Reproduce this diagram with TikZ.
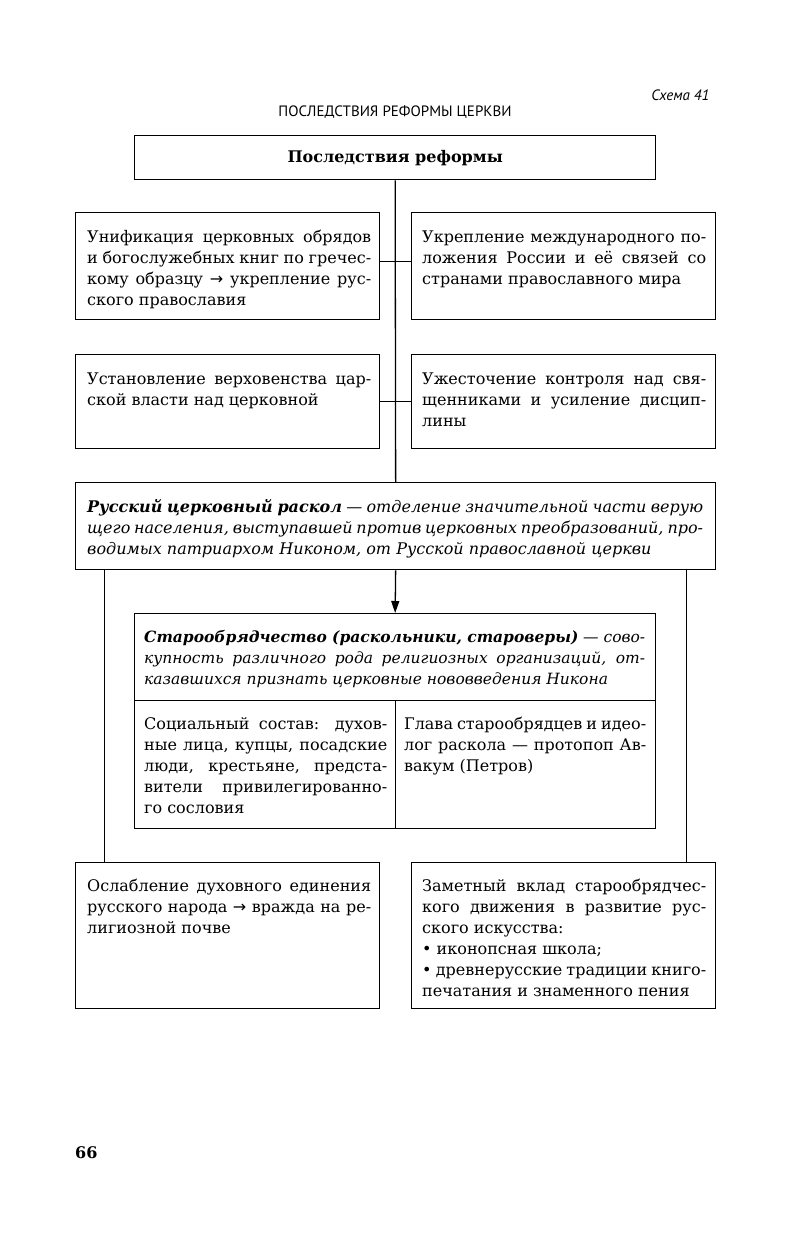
\documentclass[tikz,border=0pt]{standalone}
\usepackage{fontspec}
\setmainfont{DejaVu Serif}
\newfontfamily\hdrfont{PT Sans}
\newfontfamily\arrfont{DejaVu Sans}
\newcommand{\rarr}{{\arrfont →}}
\usetikzlibrary{arrows.meta}
\begin{document}
\begin{tikzpicture}[x=1pt,y=-1pt,
  box/.style={draw, line width=1.3pt, inner sep=0pt, anchor=north west},
  txt/.style={anchor=base west, inner sep=0pt, align=justify, font=\fontsize{16}{21}\selectfont},
  conn/.style={line width=1.3pt}]
\useasboundingbox[fill=white] (0,0) rectangle (791,1245);

\node[font=\hdrfont\itshape\fontsize{15}{17}\selectfont, anchor=east] (schema) at (713,95) {Схема 41};
\node[font=\hdrfont\fontsize{15}{17}\selectfont] (title) at (395,112) {ПОСЛЕДСТВИЯ РЕФОРМЫ ЦЕРКВИ};

\node[box, minimum width=521pt, minimum height=44pt, font=\bfseries\fontsize{16}{21}\selectfont] (T) at (134,135) {Последствия реформы};

\node[box, minimum width=304pt, minimum height=107pt] (A) at (75,212) {};
\node[box, minimum width=304pt, minimum height=107pt] (B) at (411,212) {};
\node[box, minimum width=304pt, minimum height=94pt] (C) at (75,354) {};
\node[box, minimum width=304pt, minimum height=94pt] (D) at (411,354) {};
\node[box, minimum width=640pt, minimum height=87pt] (R) at (75,482) {};
\node[box, minimum width=521pt, minimum height=87pt] (O) at (134,613) {};
\node[box, minimum width=261pt, minimum height=128pt] (OL) at (134,700) {};
\node[box, minimum width=260pt, minimum height=128pt] (OR) at (395,700) {};
\node[box, minimum width=304pt, minimum height=146pt] (L) at (75,862) {};
\node[box, minimum width=304pt, minimum height=146pt] (BR) at (411,862) {};

\node[txt, text width=284pt] (At) at (87,242) {Унификация церковных обрядов\break и богослужебных книг по гречес-\break кому образцу \rarr{} укрепление рус-\break ского православия};
\node[txt, text width=284pt] (Bt) at (422,242) {Укрепление международного по-\break ложения России и её связей со\break странами православного мира};
\node[txt, text width=284pt] (Ct) at (87,384) {Установление верховенства цар-\break ской власти над церковной};
\node[txt, text width=284pt] (Dt) at (422,384) {Ужесточение контроля над свя-\break щенниками и усиление дисцип-\break лины};
\node[txt, text width=616pt, font=\itshape\fontsize{16}{21}\selectfont] (Rt) at (87,512) {\textbf{Русский церковный раскол} — отделение значительной части верую\break щего населения, выступавшей против церковных преобразований, про-\break водимых патриархом Никоном, от Русской православной церкви};
\node[txt, text width=501pt, font=\itshape\fontsize{15.5}{21}\selectfont] (Ot) at (144,642) {\textbf{Старообрядчество (раскольники, староверы)} — сово-\break купность различного рода религиозных организаций, от-\break казавшихся признать церковные нововведения Никона};
\node[txt, text width=243pt] (OLt) at (144,729) {Социальный состав: духов-\break ные лица, купцы, посадские\break люди, крестьяне, предста-\break вители привилегированно-\break го сословия};
\node[txt, text width=242pt] (ORt) at (404,729) {Глава старообрядцев и идео-\break лог раскола — протопоп Ав-\break вакум (Петров)};
\node[txt, text width=284pt] (Lt) at (87,891) {Ослабление духовного единения\break русского народа \rarr{} вражда на ре-\break лигиозной почве};
\node[txt, text width=284pt] (BRt) at (422,891) {Заметный вклад старообрядчес-\break кого движения в развитие рус-\break ского искусства:\\ \textbullet~иконопсная школа;\\ \textbullet~древнерусские традиции книго-\break печатания и знаменного пения};

\node[font=\bfseries\fontsize{16}{18}\selectfont, anchor=west, inner sep=0pt] (page) at (75,1153) {66};

\draw[conn] (T.south) -- (R.north);
\draw[conn] ([yshift=5pt]A.east) -- ([yshift=5pt]B.west);
\draw[conn] (C.east) -- (D.west);
\draw[conn, -{Triangle[length=12pt,width=8pt]}] (R.south) -- (O.north);
\draw[conn] ([xshift=29.5pt]R.south west) -- ([xshift=29.5pt]L.north west);
\draw[conn] ([xshift=-30pt]R.south east) -- ([xshift=-30pt]BR.north east);
\end{tikzpicture}
\end{document}
